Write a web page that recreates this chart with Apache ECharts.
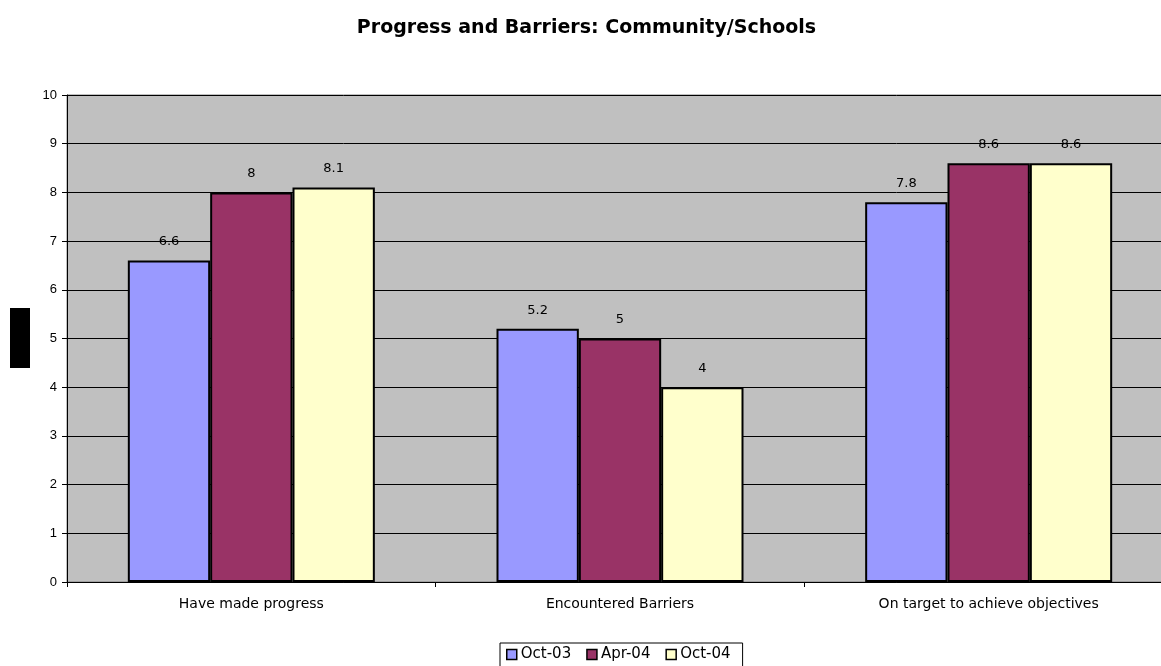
<!DOCTYPE html>
<html><head><meta charset="utf-8">
<script src="https://cdn.jsdelivr.net/npm/echarts@6/dist/echarts.min.js"></script>
<style>html,body{margin:0;padding:0;background:#fff;overflow:hidden}#c{width:1173px;height:666px}</style>
</head><body><div id="c"></div>
<script>
const categories = ["Have made progress", "Encountered Barriers", "On target to achieve objectives"];
const seriesNames = ["Oct-03", "Apr-04", "Oct-04"];
const oct03 = [6.6, 5.2, 7.8];
const apr04 = [8, 5, 8.6];
const oct04 = [8.1, 4, 8.6];
const colors = ["#9999FF", "#993366", "#FFFFCC"];
const values = [oct03, apr04, oct04];

const chart = echarts.init(document.getElementById('c'));
const font = 'Liberation Sans, Arial, sans-serif';
const wide = 'DejaVu Sans, sans-serif';
chart.setOption({
  animation: false,
  textStyle: { fontFamily: font },
  title: {
    text: 'Progress and Barriers: Community/Schools',
    left: 'center', top: 14,
    textStyle: { fontSize: 19, fontWeight: 'bold', color: '#000', fontFamily: wide }
  },
  legend: {
    data: seriesNames,
    left: 500, top: 643,
    itemWidth: 10, itemHeight: 10, itemGap: 15,
    backgroundColor: '#fff', borderColor: '#000', borderWidth: 1,
    padding: [4, 12, 6, 6],
    textStyle: { fontSize: 15, color: '#000', padding: [0, 0, 0, -1], fontFamily: wide },
    itemStyle: { borderColor: '#000', borderWidth: 1.5 },
    icon: 'rect'
  },
  grid: { left: 67, right: 0, top: 95, bottom: 84, show: true, backgroundColor: '#C0C0C0', borderColor: '#808080', borderWidth: 1 },
  xAxis: {
    type: 'category', data: categories,
    axisLine: { lineStyle: { color: '#000', width: 1 } },
    axisTick: { show: true, alignWithLabel: false, length: 5, lineStyle: { color: '#000' } },
    axisLabel: { fontSize: 14, color: '#000', margin: 15, fontFamily: wide }
  },
  yAxis: {
    type: 'value', min: 0, max: 10, interval: 1,
    axisLine: { show: true, lineStyle: { color: '#000' } },
    axisTick: { show: true, length: 5, lineStyle: { color: '#000' } },
    axisLabel: { fontSize: 13, color: '#000', margin: 10 },
    splitLine: { lineStyle: { color: '#000', width: 1 } }
  },
  graphic: [{ type: 'rect', shape: { x: 10, y: 308, width: 20, height: 60 }, style: { fill: '#000' } }],
  series: seriesNames.map((n, i) => ({
    name: n, type: 'bar', data: values[i],
    barGap: '0%', barCategoryGap: '33%',
    itemStyle: { color: colors[i], borderColor: '#000', borderWidth: 2 },
    label: { show: true, position: 'top', distance: 12, fontSize: 13, color: '#000', fontFamily: wide }
  }))
});
</script></body></html>
